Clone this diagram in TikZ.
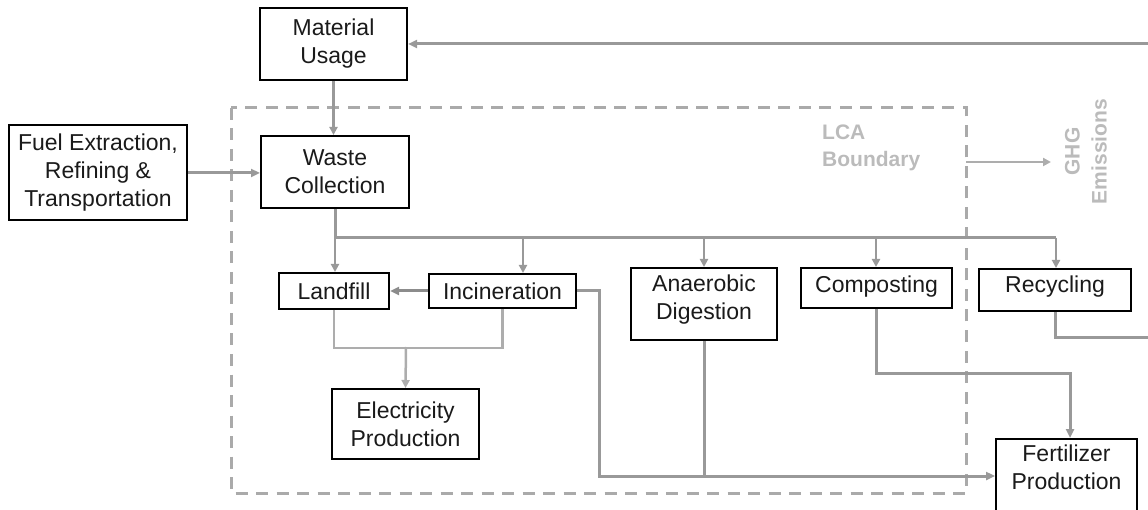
\documentclass[tikz,border=0pt]{standalone}
\usepackage{fontspec}
\setmainfont{Liberation Sans}
\usetikzlibrary{arrows.meta,positioning,calc}
\definecolor{linegray}{HTML}{999999}
\definecolor{darkline}{HTML}{8C8C8C}
\definecolor{lightline}{HTML}{ADADAD}
\definecolor{boundgray}{HTML}{AAAAAA}
\definecolor{labelgray}{HTML}{BBBBBB}
\definecolor{boxtext}{HTML}{1A1A1A}
\newcommand{\lowpad}[1]{\rule[-#1pt]{0pt}{0pt}}

\begin{document}
\begin{tikzpicture}[x=1pt,y=-1pt,
    every node/.style={font=\fontsize{23}{28}\selectfont},
    box/.style={draw=black,line width=2pt,align=center,text=boxtext,inner sep=0pt},
    flow/.style={draw=linegray,line width=3pt,-{Triangle[length=9pt,width=8pt]}},
    branch/.style={draw=linegray,line width=2.5pt,-{Triangle[length=8pt,width=8pt]}},
    line/.style={draw=linegray,line width=3pt},
    boundlabel/.style={text=labelgray,font=\fontsize{21}{27}\selectfont\bfseries,inner sep=0pt}]
      \useasboundingbox (0,0) rectangle (1148,510);
      \draw[boundgray,line width=3pt,dash pattern=on 12pt off 8.5pt] (231,108) rectangle (966,493);

      \node[box, minimum width=147pt, minimum height=72pt] (usage) at (333.5,44) {Material\\Usage};
      \node[box, minimum width=178pt, minimum height=95pt] (fuel) at (98,173) {Fuel Extraction,\\Refining \&\\Transportation};
      \node[box, minimum width=148pt, minimum height=72pt] (waste) at (335,172) {Waste\\Collection};
      \node[box, minimum width=110pt, minimum height=36pt] (landfill) at (334,291) {Landfill};
      \node[box, minimum width=147pt, minimum height=34pt] (incin) at (502.5,291) {Incineration};
      \node[box, minimum width=147pt, minimum height=70pt] (elec) at (405.5,424) {Electricity\\Production};
      \node[box, minimum width=146pt, minimum height=72pt] (anaer) at (704,304) {Anaerobic\\Digestion\lowpad{14}};
      \node[box, minimum width=151pt, minimum height=40pt] (compost) at (876.5,288) {Composting\lowpad{8}};
      \node[box, minimum width=152pt, minimum height=42pt] (recyc) at (1055,290) {Recycling\lowpad{12.5}};
      \node[box, minimum width=141pt, minimum height=90pt] (fert) at (1066.5,484) {Fertilizer\\Production\lowpad{33}};

      \node[boundlabel, anchor=north west, align=left] (lca) at (822,125) {LCA\\Boundary};
      \node[boundlabel, rotate=90, align=center] (ghg) at (1086,151.5) {GHG\\Emissions};
      \coordinate (bnd) at (966,162);
      \coordinate (ghgin) at (1051,162);

      \coordinate (split) at (335,238);
      \coordinate (t1) at (523,238);
      \coordinate (t2) at (704,238);
      \coordinate (t3) at (876,238);
      \coordinate (t4) at (1056,238);

      \draw[branch] (usage.south) -- (usage.south |- waste.north);
      \draw[flow] (fuel.east) -- (fuel.east -| waste.west);
      \draw[line] (waste.south) -- (split) -- (t4);
      \draw[branch] (split) -- (split |- landfill.north);
      \draw[branch] (t1) -- (t1 |- incin.north);
      \draw[branch] (t2) -- (anaer.north);
      \draw[branch] (t3) -- (t3 |- compost.north);
      \draw[branch] (t4) -- (t4 |- recyc.north);

      \draw[flow,draw=darkline] (incin.west) -- (landfill.east);
      \draw[lightline,line width=2.5pt] (landfill.south) -- ++(0,38) -| (incin.south);
      \coordinate (ej) at (406,347);
      \draw[branch,draw=lightline] (ej) -- (elec.north);

      \draw[flow] (incin.east) -- (599,291) |- ([yshift=8pt]fert.west);
      \draw[line] (anaer.south) -- (anaer.south |- 0,476);
      \draw[flow] (compost.south) |- (1070,373) -- ([xshift=3.5pt]fert.north);
      \draw[flow] (recyc.south) |- (1175,338) |- (usage.east);

      \draw[branch,draw=lightline,line width=2pt] (bnd) -- (ghgin);
    \end{tikzpicture}
\end{document}
